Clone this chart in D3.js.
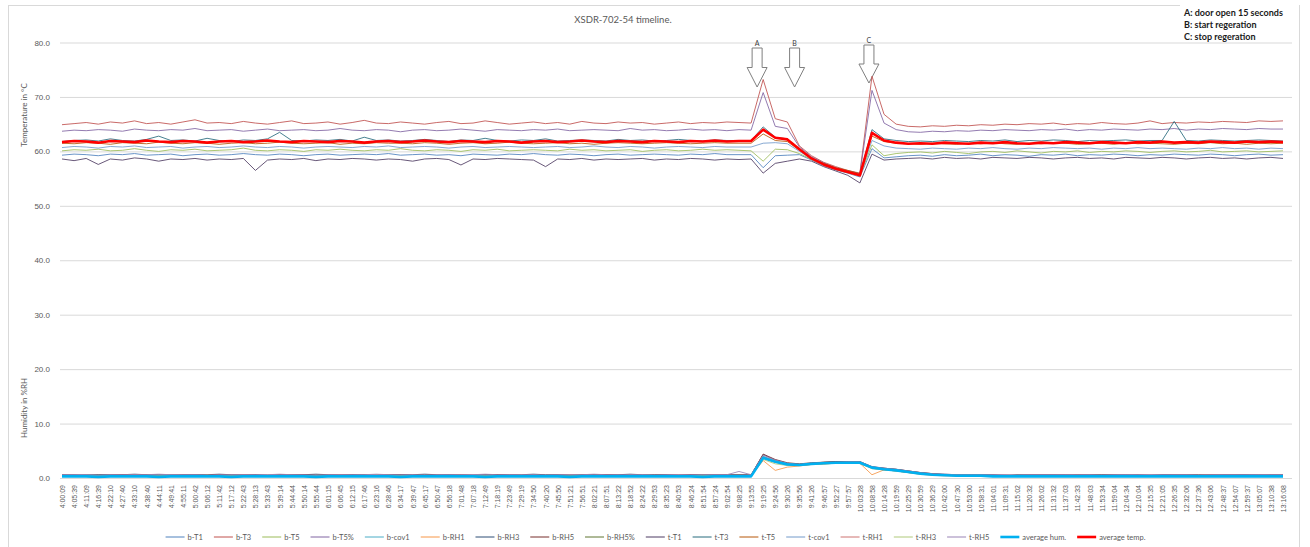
<!DOCTYPE html>
<html>
<head>
<meta charset="utf-8">
<script src="https://cdn.jsdelivr.net/npm/d3@7"></script>
<style>
body { margin: 0; background: #fff; }
svg { font-family: Lato, "Liberation Sans", sans-serif; }
</style>
</head>
<body>
<script>
var chartTitle = "XSDR-702-54 timeline.";
var notes = ["A: door open 15 seconds", "B: start regeration", "C: stop regeration"];
var events = [{label: "A", at: 57.5}, {label: "B", at: 60.6}, {label: "C", at: 66.75}];
var yTicks = [0, 10, 20, 30, 40, 50, 60, 70, 80];

var timeLabels = ["4:00:09","4:05:39","4:11:09","4:16:39","4:22:10","4:27:40","4:33:10","4:38:40","4:44:11","4:49:41",
  "4:55:11","5:00:42","5:06:12","5:11:42","5:17:12","5:22:43","5:28:13","5:33:43","5:39:14","5:44:44",
  "5:50:14","5:55:44","6:01:15","6:06:45","6:12:15","6:17:46","6:23:16","6:28:46","6:34:17","6:39:47",
  "6:45:17","6:50:47","6:56:18","7:01:48","7:07:18","7:12:49","7:18:19","7:23:49","7:29:19","7:34:50",
  "7:40:20","7:45:50","7:51:21","7:56:51","8:02:21","8:07:51","8:13:22","8:18:52","8:24:22","8:29:53",
  "8:35:23","8:40:53","8:46:24","8:51:54","8:57:24","9:02:54","9:08:25","9:13:55","9:19:25","9:24:56",
  "9:30:26","9:35:56","9:41:26","9:46:57","9:52:27","9:57:57","10:03:28","10:08:58","10:14:28","10:19:59",
  "10:25:29","10:30:59","10:36:29","10:42:00","10:47:30","10:53:00","10:58:31","11:04:01","11:09:31","11:15:02",
  "11:20:32","11:26:02","11:31:32","11:37:03","11:42:33","11:48:03","11:53:34","11:59:04","12:04:34","12:10:04",
  "12:15:35","12:21:05","12:26:35","12:32:06","12:37:36","12:43:06","12:48:37","12:54:07","12:59:37","13:05:07",
  "13:10:38","13:16:08"];

var seriesNames = ["b-T1","b-T3","b-T5","b-T5%","b-cov1","b-RH1","b-RH3","b-RH5","b-RH5%",
  "t-T1","t-T3","t-T5","t-cov1","t-RH1","t-RH3","t-RH5","average hum.","average temp."];
var seriesColors = ["#4F81BD","#C0504D","#9BBB59","#8064A2","#4BACC6","#F79646","#2C4D75","#772C2A","#5F7530",
  "#4D3B62","#276A7C","#B65708","#729ACA","#CD7371","#AFC97A","#9983B5","#00B0F0","#FF0000"];

// temperatures (°C)
var bT1 = [59.3,59.5,59.4,59.2,59.5,59.4,59.6,59.3,59.4,59.5,
  59.2,59.4,59.5,59.3,59.4,59.6,59.4,59.3,59.5,59.4,
  59.2,59.4,59.5,59.3,59.4,59.5,59.4,59.6,59.3,59.4,
  59.5,59.3,59.4,59.2,59.5,59.4,59.3,59.5,59.4,59.6,
  59.4,59.3,59.5,59.4,59.2,59.4,59.5,59.3,59.4,59.5,
  59.4,59.3,59.5,59.4,59.6,59.4,59.4,
  59.4,57.0,59.2,59.3,59.4,58.4,57.4,56.6,56.0,55.3,60.5,58.8,59.0,59.2,
  59.3,59.1,59.4,59.2,59.3,59.5,59.2,59.4,59.3,59.1,
  59.4,59.3,59.5,59.2,59.4,59.3,59.5,59.4,59.2,59.4,
  59.3,59.5,59.4,59.3,59.5,59.4,59.2,59.4,59.5,59.3,59.4];
var bT3 = [64.9,65.1,65.3,65.0,65.4,65.2,65.6,65.1,65.3,65.0,
  65.4,65.8,65.2,65.3,65.1,65.5,65.2,65.0,65.3,65.6,
  65.1,65.2,65.4,65.0,65.3,65.7,65.2,65.1,65.4,65.2,
  65.0,65.3,65.5,65.1,65.2,65.6,65.3,65.0,65.2,65.4,
  65.1,65.3,65.0,65.5,65.2,65.1,65.4,65.2,65.3,65.0,
  65.2,65.4,65.1,65.3,65.2,65.4,65.3,
  65.2,73.2,66.0,65.4,61.0,59.2,58.0,57.2,56.5,56.0,73.8,66.8,65.0,64.6,
  64.5,64.7,64.6,64.8,64.7,64.9,64.8,65.0,64.9,65.1,
  65.0,65.2,64.9,65.1,65.0,65.3,65.1,65.0,65.2,65.6,
  65.1,65.3,65.2,65.4,65.3,65.5,65.4,65.3,65.6,65.5,65.6];
var bT5 = [60.1,60.3,60.2,60.4,60.1,60.2,60.5,60.2,60.0,60.3,
  60.2,60.4,60.1,60.2,60.3,60.6,60.2,60.1,60.3,60.2,
  60.0,60.3,60.2,60.4,60.2,60.1,60.3,60.2,60.5,60.2,
  60.1,60.3,60.2,60.0,60.3,60.2,60.4,60.1,60.2,60.3,
  60.2,60.1,60.4,60.2,60.3,60.1,60.2,60.3,60.0,60.2,
  60.3,60.1,60.2,60.4,60.2,60.3,60.2,
  60.1,58.2,60.4,60.3,59.6,58.5,57.5,56.7,56.1,55.5,61.2,59.2,59.6,59.8,
  59.9,59.7,60.0,59.8,59.6,59.9,60.0,59.8,60.1,59.9,
  59.7,60.0,59.9,60.1,59.8,60.0,59.9,60.1,60.0,59.8,
  60.0,60.1,59.9,60.0,60.2,59.9,60.0,60.1,59.9,60.0,60.1];
var bT5p = [63.7,63.9,63.8,64.0,63.9,63.7,64.1,63.9,63.8,64.0,
  63.9,64.2,63.8,63.9,64.0,63.7,63.9,64.1,63.8,63.9,
  64.0,63.8,63.9,64.2,63.9,63.8,64.0,63.9,63.6,63.9,
  64.0,63.8,63.9,64.1,63.9,63.7,64.0,63.9,63.8,64.0,
  63.9,64.1,63.8,63.9,64.0,63.9,63.8,64.2,63.9,64.0,
  63.8,63.9,64.1,63.9,64.0,63.8,64.0,
  63.9,70.8,64.6,64.2,60.8,59.0,57.9,57.0,56.4,55.9,71.2,65.2,64.0,63.6,
  63.5,63.7,63.6,63.8,63.7,63.9,63.8,64.0,63.9,63.8,
  64.0,63.9,64.1,63.8,64.0,63.9,64.1,64.0,63.9,64.1,
  64.0,64.2,63.9,64.1,64.0,64.2,64.1,64.0,64.2,64.1,64.1];
var tT1 = [58.6,58.3,58.7,57.6,58.6,58.4,58.8,58.6,58.2,58.6,
  58.5,58.7,58.4,58.6,58.5,58.7,56.5,58.4,58.6,58.5,
  58.7,58.3,58.6,58.5,58.7,58.6,58.4,58.6,58.5,58.2,
  58.6,58.7,58.5,57.5,58.6,58.5,58.7,58.6,58.5,58.4,
  57.2,58.6,58.5,58.7,58.4,58.6,58.5,58.6,58.7,58.4,
  58.6,58.5,58.7,58.6,58.4,58.6,58.5,
  58.6,56.0,57.8,58.2,58.6,58.2,57.2,56.4,55.6,54.2,59.5,58.4,58.6,58.7,
  58.8,58.6,58.9,58.7,58.8,58.6,58.9,58.8,58.7,58.9,
  58.8,58.6,58.8,58.9,58.7,58.8,58.6,58.9,58.8,58.7,
  58.9,58.8,58.6,58.8,58.9,58.7,58.8,58.6,58.8,58.9,58.7];
var tT3 = [61.8,62.0,62.1,61.9,62.3,62.0,61.9,62.2,62.8,62.0,
  62.1,61.9,62.4,62.0,61.8,62.1,62.0,62.3,63.5,62.0,
  61.9,62.1,62.0,62.2,61.9,62.6,62.0,62.1,61.9,62.0,
  62.2,62.0,61.8,62.1,62.0,62.4,62.0,61.9,62.1,62.0,
  62.3,61.9,62.0,62.1,62.0,61.9,62.2,62.0,62.1,61.9,
  62.0,62.2,62.0,61.9,62.1,62.0,62.0,
  62.0,64.5,62.6,62.3,60.4,58.8,57.7,56.9,56.3,55.7,64.0,62.3,62.0,61.8,
  61.9,61.8,62.0,61.9,61.8,62.0,61.9,62.1,61.8,62.0,
  61.9,62.1,62.0,61.8,62.0,61.9,62.0,62.1,61.9,62.0,
  62.0,65.5,62.0,61.9,62.1,62.0,61.9,62.0,62.1,62.0,61.9];
var tT5 = [61.5,61.4,61.6,61.5,61.3,61.6,61.5,61.4,61.7,61.5,
  61.4,61.6,61.5,61.3,61.5,61.6,61.4,61.5,61.7,61.5,
  61.4,61.5,61.6,61.3,61.5,61.4,61.6,61.5,61.5,61.4,
  61.6,61.5,61.3,61.5,61.6,61.4,61.5,61.7,61.5,61.4,
  61.5,61.6,61.4,61.5,61.3,61.5,61.6,61.5,61.4,61.5,
  61.6,61.5,61.4,61.5,61.6,61.5,61.5,
  61.5,63.2,62.0,61.8,60.2,58.7,57.8,57.0,56.5,55.9,62.8,61.8,61.5,61.4,
  61.3,61.5,61.4,61.3,61.5,61.4,61.6,61.4,61.3,61.5,
  61.4,61.6,61.5,61.3,61.4,61.5,61.3,61.6,61.4,61.5,
  61.4,61.3,61.5,61.4,61.6,61.4,61.5,61.3,61.5,61.4,61.5];
var tCov1 = [60.7,60.9,60.8,60.6,60.9,60.8,61.0,60.7,60.8,60.9,
  60.6,60.8,60.9,60.7,60.8,61.0,60.8,60.7,60.9,60.8,
  60.6,60.8,60.9,60.8,60.7,60.9,60.8,61.0,60.7,60.8,
  60.9,60.8,60.6,60.8,60.9,60.7,60.8,60.9,60.8,60.7,
  60.8,60.9,60.7,60.8,61.0,60.8,60.7,60.9,60.8,60.6,
  60.8,60.9,60.8,60.7,60.9,60.8,60.8,
  60.8,61.5,61.6,61.4,60.0,58.6,57.6,56.8,56.2,55.6,62.0,61.0,60.6,60.5,
  60.4,60.6,60.5,60.4,60.6,60.5,60.7,60.5,60.4,60.6,
  60.5,60.7,60.6,60.5,60.6,60.4,60.6,60.5,60.7,60.5,
  60.6,60.5,60.4,60.6,60.5,60.7,60.5,60.6,60.4,60.6,60.5];
var avgTemp = [61.7,61.9,61.8,61.6,61.9,61.8,61.7,62.0,61.8,61.7,
  61.9,61.8,61.6,61.8,61.9,61.7,61.8,62.0,61.8,61.7,
  61.9,61.8,61.7,61.9,61.8,61.6,61.8,61.9,61.7,61.8,
  62.0,61.8,61.7,61.9,61.8,61.7,61.9,61.8,61.6,61.8,
  61.9,61.7,61.8,62.0,61.8,61.7,61.9,61.8,61.7,61.9,
  61.8,61.7,61.9,61.8,62.0,61.8,61.9,
  61.9,64.0,62.5,62.2,60.4,58.7,57.6,56.8,56.2,55.6,63.4,62.0,61.6,61.4,
  61.5,61.4,61.6,61.5,61.4,61.6,61.5,61.7,61.5,61.4,
  61.6,61.5,61.7,61.6,61.5,61.7,61.6,61.5,61.7,61.6,
  61.8,61.6,61.7,61.6,61.8,61.7,61.6,61.8,61.7,61.8,61.7];

// humidity (%RH)
var bCov1 = [0.5,0.5,0.6,0.5,0.5,0.4,0.5,0.5,0.5,0.6,
  0.5,0.5,0.4,0.5,0.5,0.5,0.6,0.5,0.5,0.5,
  0.4,0.5,0.5,0.5,0.6,0.5,0.5,0.5,0.5,0.4,
  0.5,0.5,0.6,0.5,0.5,0.5,0.5,0.4,0.5,0.5,
  0.5,0.6,0.5,0.5,0.5,0.4,0.5,0.5,0.5,0.5,
  0.6,0.5,0.5,0.5,0.4,0.5,0.5,
  0.5,4.0,3.1,2.6,2.5,2.7,2.8,2.9,2.9,2.9,2.0,1.7,1.5,1.2,
  0.9,0.7,0.6,0.5,0.5,0.5,0.5,0.4,0.5,0.5,
  0.5,0.5,0.4,0.5,0.5,0.5,0.5,0.5,0.4,0.5,
  0.5,0.5,0.5,0.4,0.5,0.5,0.5,0.5,0.5,0.4,0.5];
var bRH1 = [0.4,0.4,0.4,0.5,0.4,0.4,0.3,0.4,0.4,0.4,
  0.5,0.4,0.4,0.4,0.3,0.4,0.4,0.4,0.5,0.4,
  0.4,0.4,0.4,0.3,0.4,0.4,0.5,0.4,0.4,0.4,
  0.4,0.3,0.4,0.4,0.4,0.5,0.4,0.4,0.4,0.3,
  0.4,0.4,0.4,0.4,0.5,0.4,0.4,0.3,0.4,0.4,
  0.4,0.4,0.5,0.4,0.4,0.4,0.4,
  0.4,3.2,1.4,2.0,2.2,2.5,2.6,2.7,2.7,2.7,0.6,1.5,1.3,1.0,
  0.7,0.5,0.4,0.4,0.4,0.3,0.4,0.4,0.4,0.4,
  0.3,0.4,0.4,0.4,0.4,0.4,0.3,0.4,0.4,0.4,
  0.4,0.4,0.3,0.4,0.4,0.4,0.4,0.3,0.4,0.4,0.4];
var bRH3 = [0.6,0.6,0.5,0.6,0.6,0.6,0.7,0.6,0.6,0.5,
  0.6,0.6,0.6,0.7,0.6,0.6,0.6,0.5,0.6,0.6,
  0.6,0.7,0.6,0.6,0.6,0.6,0.5,0.6,0.6,0.6,
  0.7,0.6,0.6,0.6,0.5,0.6,0.6,0.6,0.6,0.7,
  0.6,0.6,0.5,0.6,0.6,0.6,0.6,0.7,0.6,0.6,
  0.6,0.5,0.6,0.6,0.6,0.6,0.6,
  0.6,4.3,3.3,2.7,2.5,2.7,2.9,3.0,3.0,3.0,2.1,1.8,1.6,1.3,
  1.0,0.8,0.7,0.6,0.6,0.6,0.6,0.5,0.6,0.6,
  0.6,0.6,0.6,0.5,0.6,0.6,0.6,0.6,0.6,0.5,
  0.6,0.6,0.6,0.6,0.5,0.6,0.6,0.6,0.6,0.6,0.6];
var bRH5 = [0.5,0.4,0.5,0.5,0.5,0.6,0.5,0.5,0.4,0.5,
  0.5,0.5,0.5,0.6,0.5,0.5,0.5,0.4,0.5,0.5,
  0.6,0.5,0.5,0.5,0.5,0.4,0.5,0.5,0.6,0.5,
  0.5,0.5,0.4,0.5,0.5,0.5,0.6,0.5,0.5,0.5,
  0.4,0.5,0.5,0.5,0.5,0.6,0.5,0.5,0.4,0.5,
  0.5,0.5,0.6,0.5,0.5,0.5,0.5,
  0.5,4.4,3.4,2.8,2.6,2.8,2.9,3.0,3.0,3.0,2.0,1.8,1.6,1.3,
  1.0,0.8,0.6,0.5,0.5,0.5,0.5,0.5,0.4,0.5,
  0.5,0.5,0.5,0.6,0.5,0.5,0.5,0.4,0.5,0.5,
  0.5,0.5,0.5,0.5,0.6,0.5,0.5,0.5,0.4,0.5,0.5];
var bRH5p = [0.4,0.4,0.3,0.4,0.4,0.4,0.4,0.5,0.4,0.4,
  0.4,0.3,0.4,0.4,0.4,0.4,0.4,0.5,0.4,0.4,
  0.3,0.4,0.4,0.4,0.4,0.5,0.4,0.4,0.4,0.3,
  0.4,0.4,0.4,0.5,0.4,0.4,0.4,0.4,0.3,0.4,
  0.4,0.4,0.4,0.5,0.4,0.4,0.4,0.3,0.4,0.4,
  0.4,0.4,0.4,0.5,0.4,0.4,0.4,
  0.4,3.6,2.9,2.4,2.3,2.5,2.6,2.7,2.7,2.7,1.8,1.5,1.3,1.0,
  0.8,0.6,0.5,0.4,0.4,0.4,0.4,0.4,0.3,0.4,
  0.4,0.4,0.4,0.4,0.4,0.3,0.4,0.4,0.4,0.4,
  0.4,0.4,0.3,0.4,0.4,0.4,0.4,0.4,0.4,0.3,0.4];
var tRH1 = [0.5,0.5,0.5,0.4,0.5,0.5,0.6,0.5,0.5,0.5,
  0.5,0.4,0.5,0.5,0.5,0.6,0.5,0.5,0.5,0.5,
  0.4,0.5,0.5,0.6,0.5,0.5,0.5,0.5,0.4,0.5,
  0.5,0.5,0.5,0.6,0.5,0.5,0.4,0.5,0.5,0.5,
  0.5,0.5,0.6,0.5,0.5,0.5,0.4,0.5,0.5,0.5,
  0.5,0.6,0.5,0.5,0.5,0.5,0.5,
  0.5,3.9,3.2,2.6,2.5,2.7,2.8,2.8,2.9,2.9,1.9,1.7,1.5,1.2,
  0.9,0.7,0.6,0.5,0.5,0.5,0.4,0.5,0.5,0.5,
  0.5,0.5,0.5,0.4,0.5,0.5,0.5,0.5,0.5,0.5,
  0.4,0.5,0.5,0.5,0.5,0.5,0.5,0.4,0.5,0.5,0.5];
var tRH3 = [0.4,0.3,0.4,0.4,0.4,0.4,0.4,0.3,0.4,0.4,
  0.4,0.4,0.5,0.4,0.4,0.4,0.3,0.4,0.4,0.4,
  0.4,0.4,0.4,0.4,0.3,0.4,0.4,0.5,0.4,0.4,
  0.4,0.4,0.3,0.4,0.4,0.4,0.4,0.4,0.5,0.4,
  0.4,0.3,0.4,0.4,0.4,0.4,0.4,0.4,0.3,0.4,
  0.4,0.4,0.4,0.5,0.4,0.4,0.4,
  0.4,3.4,2.6,2.3,2.3,2.5,2.6,2.7,2.7,2.7,1.7,1.5,1.3,1.0,
  0.7,0.6,0.5,0.4,0.4,0.4,0.4,0.4,0.4,0.3,
  0.4,0.4,0.4,0.4,0.4,0.4,0.4,0.3,0.4,0.4,
  0.4,0.4,0.4,0.4,0.4,0.3,0.4,0.4,0.4,0.4,0.4];
var tRH5 = [0.6,0.6,0.6,0.5,0.6,0.6,0.6,0.6,0.7,0.6,
  0.6,0.6,0.5,0.6,0.6,0.6,0.6,0.6,0.7,0.6,
  0.6,0.5,0.6,0.6,0.6,0.6,0.7,0.6,0.6,0.6,
  0.5,0.6,0.6,0.6,0.6,0.7,0.6,0.6,0.6,0.6,
  0.5,0.6,0.6,0.6,0.7,0.6,0.6,0.6,0.6,0.5,
  0.6,0.6,0.6,0.6,0.6,0.6,1.2,
  0.6,4.2,3.3,2.7,2.5,2.7,2.8,2.9,3.0,3.0,2.1,1.8,1.6,1.3,
  1.0,0.8,0.7,0.6,0.6,0.6,0.6,0.6,0.5,0.6,
  0.6,0.6,0.6,0.6,0.6,0.5,0.6,0.6,0.6,0.6,
  0.6,0.6,0.6,0.5,0.6,0.6,0.6,0.6,0.6,0.6,0.6];
var avgHum = [0.3,0.3,0.3,0.2,0.3,0.3,0.3,0.3,0.2,0.3,
  0.3,0.3,0.3,0.3,0.2,0.3,0.3,0.3,0.3,0.3,
  0.3,0.2,0.3,0.3,0.3,0.3,0.3,0.3,0.2,0.3,
  0.3,0.3,0.3,0.3,0.3,0.2,0.3,0.3,0.3,0.3,
  0.3,0.3,0.2,0.3,0.3,0.3,0.3,0.3,0.3,0.3,
  0.3,0.3,0.3,0.2,0.3,0.3,0.3,
  0.3,3.7,3.0,2.5,2.4,2.6,2.7,2.8,2.8,2.8,1.9,1.6,1.4,1.1,
  0.8,0.6,0.5,0.4,0.4,0.4,0.3,0.3,0.3,0.3,
  0.3,0.3,0.3,0.3,0.3,0.3,0.3,0.3,0.3,0.3,
  0.3,0.3,0.3,0.3,0.3,0.3,0.3,0.3,0.3,0.3,0.3];

var seriesValues = [bT1, bT3, bT5, bT5p, bCov1, bRH1, bRH3, bRH5, bRH5p,
  tT1, tT3, tT5, tCov1, tRH1, tRH3, tRH5, avgHum, avgTemp];

var W = 1310, H = 547;
var plotLeft = 60, plotRight = 1292;

var svg = d3.select("body").append("svg")
    .attr("width", W)
    .attr("height", H);

// chart frame
svg.append("rect")
    .attr("x", 8.5).attr("y", 5.5)
    .attr("width", 1291).attr("height", 545)
    .attr("fill", "#fff")
    .attr("stroke", "#d9d9d9");

var x = d3.scaleLinear()
    .domain([0, timeLabels.length - 1])
    .range([62, 1283]);

var y = d3.scaleLinear()
    .domain([0, 80])
    .range([478, 42.5]);

// y axis + gridlines
var yAxis = svg.append("g")
    .attr("transform", "translate(" + plotLeft + ",0)")
    .call(d3.axisLeft(y)
        .tickValues(yTicks)
        .tickFormat(d3.format(".1f"))
        .tickSize(-(plotRight - plotLeft))
        .tickPadding(10));
yAxis.select(".domain").remove();
yAxis.selectAll(".tick line").attr("stroke", "#d9d9d9");
yAxis.selectAll(".tick text")
    .attr("fill", "#595959")
    .style("font-size", "8px");

// x axis labels
var xAxis = svg.append("g")
    .attr("transform", "translate(0," + y(0) + ")")
    .call(d3.axisBottom(x)
        .tickValues(d3.range(timeLabels.length))
        .tickFormat(function(i) { return timeLabels[i]; })
        .tickSize(0));
xAxis.select(".domain").remove();
xAxis.selectAll(".tick text")
    .attr("transform", "rotate(-90)")
    .attr("x", -7)
    .attr("y", 0)
    .attr("dy", "0.35em")
    .attr("fill", "#595959")
    .style("text-anchor", "end")
    .style("font-size", "7px");

// axis titles
svg.append("text")
    .attr("transform", "translate(27,115) rotate(-90)")
    .attr("text-anchor", "middle")
    .attr("fill", "#595959")
    .style("font-size", "8px")
    .text("Temperature in °C");
svg.append("text")
    .attr("transform", "translate(27,408) rotate(-90)")
    .attr("text-anchor", "middle")
    .attr("fill", "#595959")
    .style("font-size", "8px")
    .text("Humidity in %RH");

// title
svg.append("text")
    .attr("x", 623).attr("y", 23)
    .attr("text-anchor", "middle")
    .attr("fill", "#595959")
    .style("font-size", "9.5px")
    .text(chartTitle);

// event arrows
var arrow = svg.append("g").selectAll("g")
    .data(events)
    .enter().append("g")
    .attr("transform", function(d) {
        return "translate(" + x(d.at) + "," + (d.label === "C" ? 45 : 48) + ")";
    });
arrow.append("path")
    .attr("d", function(d) {
        var h = d.label === "C" ? 38 : 39;
        return "M-5,0 L5,0 L5," + (h * 0.5) + " L10," + (h * 0.5) + " L0," + h +
            " L-10," + (h * 0.5) + " L-5," + (h * 0.5) + " Z";
    })
    .attr("fill", "#fff")
    .attr("stroke", "#7f7f7f")
    .attr("stroke-width", 1);
arrow.append("text")
    .attr("y", -2)
    .attr("text-anchor", "middle")
    .attr("fill", "#404040")
    .style("font-size", "7px")
    .text(function(d) { return d.label; });

// lines
var line = d3.line()
    .x(function(d, i) { return x(i); })
    .y(function(d) { return y(d); });

var series = seriesNames.map(function(name, k) {
    return {name: name, color: seriesColors[k], values: seriesValues[k], thick: name.indexOf("average") === 0};
});

svg.append("g").selectAll("path")
    .data(series)
    .enter().append("path")
    .attr("d", function(d) { return line(d.values); })
    .attr("fill", "none")
    .attr("stroke", function(d) { return d.color; })
    .attr("stroke-width", function(d) { return d.thick ? 2.6 : 1; })
    .attr("stroke-opacity", function(d) { return d.thick ? 1 : 0.85; })
    .attr("stroke-linejoin", "round");

// notes box (top right)
var notesG = svg.append("g");
notesG.append("rect")
    .attr("x", 1180).attr("y", 0)
    .attr("width", 119).attr("height", 41)
    .attr("fill", "#fff");
notesG.selectAll("text")
    .data(notes)
    .enter().append("text")
    .attr("x", 1184)
    .attr("y", function(d, i) { return 16 + i * 12; })
    .attr("fill", "#1a1a1a")
    .style("font-size", "9px")
    .style("font-weight", "bold")
    .text(function(d) { return d; });

// legend
var legend = svg.append("g");
var items = legend.selectAll("g")
    .data(series)
    .enter().append("g");
items.append("line")
    .attr("x1", 0).attr("x2", 19)
    .attr("y1", 0).attr("y2", 0)
    .attr("stroke", function(d) { return d.color; })
    .attr("stroke-width", function(d) { return d.thick ? 2.6 : 1; });
items.append("text")
    .attr("x", 22)
    .attr("dy", "0.35em")
    .attr("fill", "#595959")
    .style("font-size", "7.5px")
    .text(function(d) { return d.name; });

var pos = 0;
var offsets = [];
items.each(function(d) {
    var tw = d3.select(this).select("text").node().getComputedTextLength();
    offsets.push(pos);
    pos += 22 + tw + 11;
});
var total = pos - 11;
var startX = 655.5 - total / 2;
items.attr("transform", function(d, i) { return "translate(" + (startX + offsets[i]) + ",537)"; });
</script>
</body>
</html>
